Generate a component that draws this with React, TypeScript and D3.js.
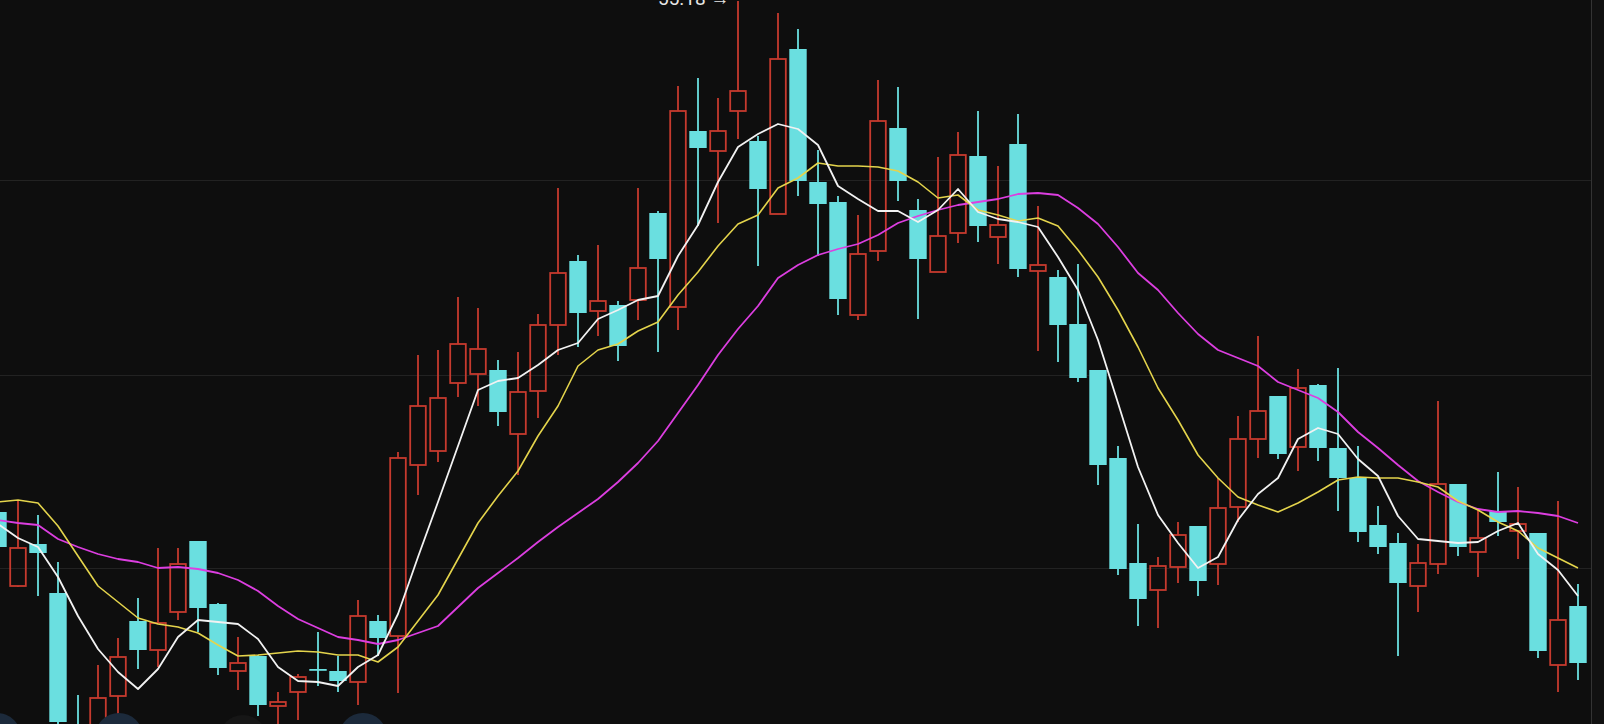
import React from "react";
import * as d3 from "d3";

// ---- data ----
const openPrices = [
  44.96, 43.48, 44.32, 43.34, 40.6, 40.4, 41.28, 42.78, 42.2, 42.96,
  44.38, 43.12, 41.78, 42.08, 41.08, 41.36, 41.82, 41.78, 41.56, 42.78,
  42.48, 45.9, 46.18, 47.54, 47.72, 47.8, 46.52, 47.38, 48.7, 49.98,
  48.98, 49.1, 49.2, 50.94, 49.06, 52.58, 52.18, 52.98, 52.38, 50.92,
  54.22, 51.56, 51.16, 48.9, 50.18, 52.64, 51.0, 49.76, 50.54, 52.08,
  50.46, 52.32, 49.78, 49.66, 48.72, 47.8, 46.04, 43.94, 43.4, 43.86,
  44.68, 43.92, 45.06, 46.42, 47.28, 46.26, 47.5, 46.24, 45.64, 44.7,
  44.34, 43.48, 43.92, 45.52, 44.16, 44.98, 44.58, 44.54, 41.9, 43.08,
];
const closePrices = [
  44.26, 44.24, 44.14, 40.76, 40.0, 41.24, 42.06, 42.2, 42.74, 43.92,
  43.04, 41.84, 41.94, 41.1, 41.16, 41.66, 41.8, 41.58, 42.88, 42.44,
  46.04, 47.08, 47.24, 48.32, 48.22, 46.96, 47.36, 48.7, 49.74, 48.94,
  49.18, 48.28, 49.84, 50.02, 52.98, 52.24, 52.58, 53.38, 51.42, 54.02,
  51.58, 51.12, 49.22, 50.12, 52.78, 51.58, 50.02, 50.48, 52.1, 50.68,
  50.7, 49.82, 49.9, 48.7, 47.64, 45.9, 43.82, 43.22, 43.88, 44.5,
  43.58, 45.04, 46.42, 46.98, 46.12, 47.44, 46.24, 45.64, 44.56, 44.26,
  43.54, 43.94, 45.52, 44.26, 44.44, 44.76, 44.72, 42.18, 42.8, 41.94,
];
const highPrices = [
  45.0, 45.18, 44.9, 43.96, 41.3, 41.9, 42.44, 43.24, 44.24, 44.24,
  44.38, 43.14, 42.46, 42.1, 41.36, 41.72, 42.56, 42.08, 43.2, 42.9,
  46.16, 48.1, 48.2, 49.26, 49.04, 48.0, 48.16, 48.92, 51.44, 50.1,
  50.3, 49.18, 51.44, 50.98, 53.48, 53.64, 53.24, 55.18, 52.48, 54.94,
  54.62, 52.2, 51.28, 50.9, 53.6, 53.46, 51.22, 52.06, 52.56, 52.98,
  51.88, 52.92, 51.08, 49.8, 49.92, 47.8, 46.28, 44.72, 44.06, 44.76,
  44.68, 45.64, 46.88, 48.48, 47.28, 47.82, 47.52, 47.84, 46.28, 45.08,
  44.54, 44.32, 47.18, 45.52, 45.0, 45.76, 45.46, 44.54, 45.18, 43.52,
];
const lowPrices = [
  44.22, 43.46, 43.28, 40.68, 39.8, 40.3, 40.9, 41.82, 41.86, 42.8,
  42.56, 41.7, 41.4, 40.88, 40.6, 40.8, 41.48, 41.36, 41.1, 42.08,
  41.34, 45.3, 45.96, 47.26, 47.08, 46.68, 45.7, 46.84, 48.1, 48.26,
  48.48, 47.98, 48.8, 48.16, 48.6, 50.68, 50.74, 52.42, 49.88, 50.92,
  51.28, 50.08, 48.9, 48.8, 49.98, 51.18, 48.82, 49.76, 50.34, 50.36,
  49.92, 49.66, 48.18, 47.96, 47.56, 45.5, 43.7, 42.68, 42.64, 43.54,
  43.28, 43.5, 44.76, 46.04, 46.02, 45.78, 45.98, 44.98, 44.36, 44.12,
  42.08, 42.96, 43.72, 44.08, 43.66, 44.48, 44.02, 42.04, 41.36, 41.6,
];
const ma5 = [
  44.72, 44.44, 44.26, 43.66, 42.88, 42.22, 41.76, 41.42, 41.82, 42.46,
  42.8, 42.76, 42.72, 42.42, 41.86, 41.58, 41.56, 41.48, 41.86, 42.1,
  42.92, 44.06, 45.16, 46.28, 47.4, 47.58, 47.64, 47.9, 48.2, 48.34,
  48.82, 49.0, 49.2, 49.28, 50.08, 50.7, 51.56, 52.26, 52.52, 52.72,
  52.62, 52.3, 51.48, 51.22, 50.98, 50.98, 50.76, 51.0, 51.42, 50.96,
  50.82, 50.76, 50.66, 50.06, 49.4, 48.4, 47.14, 45.86, 44.9, 44.34,
  43.84, 44.06, 44.8, 45.32, 45.64, 46.42, 46.64, 46.52, 46.02, 45.68,
  44.88, 44.42, 44.38, 44.34, 44.36, 44.58, 44.74, 44.12, 43.8, 43.28,
];
const ma10 = [
  45.16, 45.2, 45.14, 44.68, 44.08, 43.48, 43.16, 42.84, 42.72, 42.66,
  42.54, 42.3, 42.08, 42.1, 42.14, 42.18, 42.16, 42.1, 42.1, 41.96,
  42.26, 42.78, 43.3, 44.02, 44.74, 45.28, 45.78, 46.48, 47.08, 47.88,
  48.2, 48.32, 48.58, 48.76, 49.3, 49.76, 50.28, 50.72, 50.9, 51.44,
  51.64, 51.94, 51.88, 51.88, 51.86, 51.78, 51.56, 51.24, 51.3, 51.0,
  50.9, 50.78, 50.84, 50.68, 50.2, 49.66, 49.0, 48.26, 47.44, 46.8,
  46.1, 45.64, 45.26, 45.1, 44.96, 45.14, 45.36, 45.6, 45.66, 45.64,
  45.64, 45.56, 45.46, 45.18, 45.0, 44.76, 44.58, 44.24, 44.04, 43.84,
];
const ma20 = [
  44.8, 44.74, 44.7, 44.42, 44.26, 44.12, 44.02, 43.96, 43.84, 43.86,
  43.82, 43.74, 43.6, 43.38, 43.08, 42.82, 42.64, 42.46, 42.4, 42.32,
  42.4, 42.54, 42.68, 43.06, 43.44, 43.74, 44.04, 44.36, 44.66, 44.94,
  45.22, 45.56, 45.94, 46.38, 46.94, 47.5, 48.1, 48.62, 49.08, 49.64,
  49.9, 50.1, 50.22, 50.32, 50.5, 50.74, 50.88, 51.0, 51.1, 51.16,
  51.22, 51.32, 51.34, 51.3, 51.04, 50.72, 50.26, 49.74, 49.4, 48.94,
  48.52, 48.2, 48.04, 47.88, 47.56, 47.4, 47.24, 46.96, 46.56, 46.24,
  45.9, 45.58, 45.36, 45.16, 45.02, 44.96, 44.98, 44.94, 44.88, 44.74,
];
const gridValues = [51.6, 47.7, 43.84];
const maxLabel = "55.18 →";

// ---- layout ----
const W = 1604;
const H = 724;
const BG = "#0e0e0e";
const UP = "#c63a2e";
const DOWN = "#6adfe0";

export default function App() {
  const n = openPrices.length;
  const idx = d3.range(n);
  const x = d3.scaleLinear().domain([0, n - 1]).range([-2, 1578]);
  const y = d3.scaleLinear().domain([55.2, 40.72]).range([0, H]);
  const bodyW = 17.4;

  const line = (vals: number[]) =>
    d3
      .line<number>()
      .x((_, i) => x(i))
      .y((v) => y(v))(vals) || "";

  const plotRight = 1591.5;

  return (
    <svg
      width={W}
      height={H}
      style={{ position: "absolute", left: 0, top: 0, display: "block" }}
    >
      <rect x={0} y={0} width={W} height={H} fill={BG} />
      <rect x={plotRight} y={0} width={W - plotRight} height={H} fill="#111111" />
      {gridValues.map((g) => (
        <line
          key={g}
          x1={0}
          x2={plotRight}
          y1={Math.round(y(g)) + 0.5}
          y2={Math.round(y(g)) + 0.5}
          stroke="#222222"
          strokeWidth={1}
        />
      ))}
      <line x1={plotRight} x2={plotRight} y1={0} y2={H} stroke="#333333" strokeWidth={1} />

      <g>
        {idx.map((i) => {
          const o = openPrices[i];
          const c = closePrices[i];
          const h = highPrices[i];
          const l = lowPrices[i];
          const cx = x(i);
          const up = c >= o;
          const top = y(Math.max(o, c));
          const bot = y(Math.min(o, c));
          if (up) {
            return (
              <g key={i}>
                <line x1={cx} x2={cx} y1={y(h)} y2={top} stroke={UP} strokeWidth={1.8} />
                <line x1={cx} x2={cx} y1={bot} y2={y(l)} stroke={UP} strokeWidth={1.8} />
                <rect
                  x={cx - bodyW / 2 + 0.9}
                  y={top}
                  width={bodyW - 1.8}
                  height={Math.max(bot - top, 1)}
                  fill="none"
                  stroke={UP}
                  strokeWidth={1.8}
                />
              </g>
            );
          }
          return (
            <g key={i}>
              <line x1={cx} x2={cx} y1={y(h)} y2={y(l)} stroke={DOWN} strokeWidth={1.8} />
              <rect
                x={cx - bodyW / 2}
                y={top}
                width={bodyW}
                height={Math.max(bot - top, 1.8)}
                fill={DOWN}
              />
            </g>
          );
        })}
      </g>

      <path d={line(ma20)} fill="none" stroke="#dc3ee0" strokeWidth={1.8} strokeLinejoin="round" />
      <path d={line(ma10)} fill="none" stroke="#e4d44c" strokeWidth={1.6} strokeLinejoin="round" />
      <path d={line(ma5)} fill="none" stroke="#f2f2f2" strokeWidth={1.8} strokeLinejoin="round" />

      <text
        x={658}
        y={5}
        fill="#e6e6e6"
        fontSize={19}
        fontFamily="Roboto, 'Noto Sans', sans-serif"
      >
        {maxLabel}
      </text>

      <g>
        <circle cx={-3} cy={737} r={24} fill="#1c2a3b" />
        <circle cx={119} cy={737} r={24} fill="#1c2a3b" />
        <circle cx={243} cy={739} r={24} fill="#161616" />
        <circle cx={363} cy={737} r={24} fill="#1c2a3b" />
      </g>
    </svg>
  );
}
